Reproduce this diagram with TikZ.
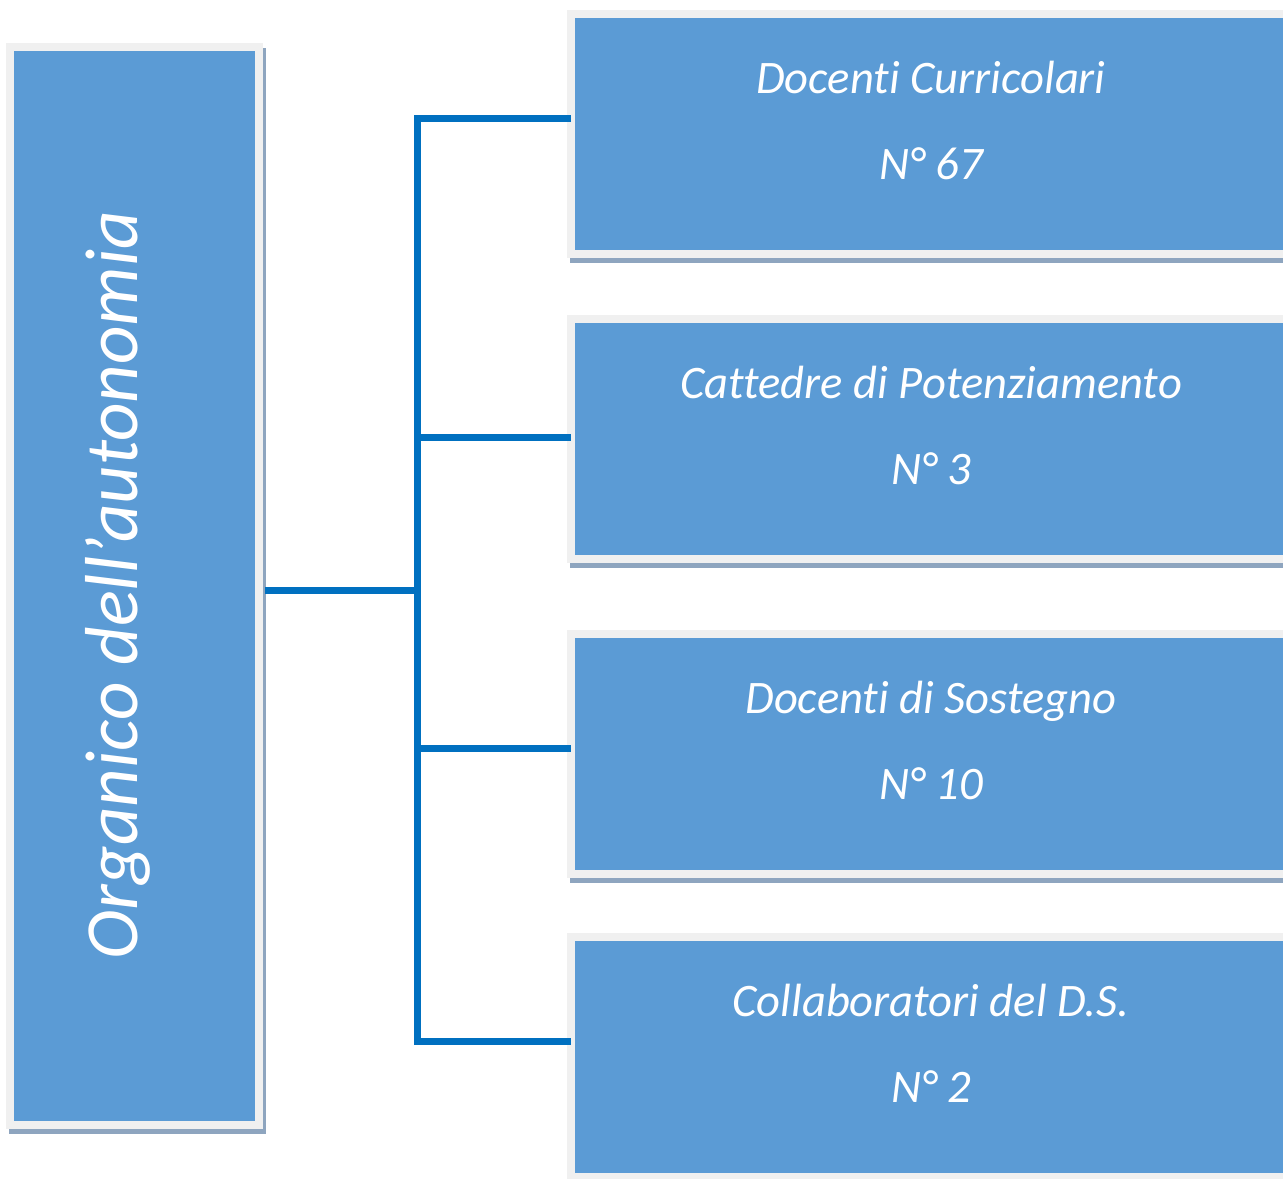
\documentclass[tikz,border=0pt]{standalone}
\usepackage{fontspec}
\setmainfont{Carlito}[Ligatures=NoCommon]
\definecolor{boxblue}{HTML}{5B9BD5}
\definecolor{framegray}{HTML}{F0F0F0}
\definecolor{shadowgray}{HTML}{8EA5BF}
\definecolor{linkblue}{HTML}{0070C0}
\begin{document}
\begin{tikzpicture}[x=0.5pt,y=-0.5pt,
		unitbox/.style={fill=boxblue, draw=framegray, line width=4pt, outer sep=0pt, inner sep=0pt,
			preaction={fill=shadowgray, draw=shadowgray, transform canvas={shift={(1.5pt,-2.5pt)}}}},
		rolebox/.style={unitbox, minimum width=360pt, minimum height=120pt, text=white, align=center,
			font=\fontsize{23.3}{43}\selectfont\itshape, text height=45pt, text depth=0pt},
		link/.style={draw=linkblue, line width=3.5pt}]
	\useasboundingbox (0,0) rectangle (1283,1178);
	\clip (0,0) rectangle (1283,1178);
	
	% left column
	\node[unitbox, minimum width=124.5pt, minimum height=539pt] (organico) at (134.5,586) {};
	\node[rotate=90, anchor=base, text=white, font=\fontsize{37.5}{42}\selectfont\itshape] (organicotitle) at (137,585) {Organico dell’autonomia};
	
	% right column
	\node[rolebox] (curricolari) at (931,134) {Docenti Curricolari\\N° 67};
	\node[rolebox] (potenziamento) at (931,439) {Cattedre di Potenziamento\\N° 3};
	\node[rolebox] (sostegno) at (931,754) {Docenti di Sostegno\\N° 10};
	\node[rolebox] (collaboratori) at (931,1057) {Collaboratori del D.S.\\N° 2};
	
	% connectors
	\coordinate (hub) at (417,590);
	\coordinate (branchA) at (417,118);
	\coordinate (branchB) at (417,437);
	\coordinate (branchC) at (417,748);
	\coordinate (branchD) at (417,1041);
	\draw[link] (organico.east |- hub) ++(3pt,0) -- (hub);
	\draw[link] (branchA -| curricolari.west) -- (branchA) -- (branchD) -- (branchD -| collaboratori.west);
	\draw[link] (branchB) -- (branchB -| potenziamento.west);
	\draw[link] (branchC) -- (branchC -| sostegno.west);
\end{tikzpicture}
\end{document}
